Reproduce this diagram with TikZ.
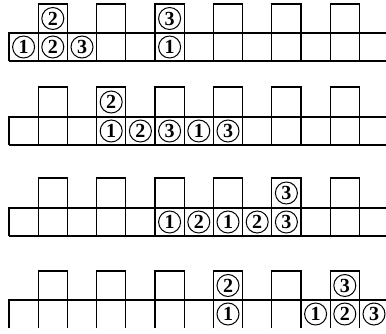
\documentclass[tikz,border=0pt]{standalone}
\usepackage{fontspec}
\setmainfont{Liberation Serif}
\begin{document}
\begin{tikzpicture}[x=1pt,y=-1pt,line width=1.1pt,
  num/.style={circle,draw,line width=1pt,minimum size=22pt,inner sep=0pt,
    font=\fontsize{20}{20}\selectfont\bfseries}]
\useasboundingbox (0,0) rectangle (386,334);
\def\cw{29.2}
% grid rows: row / bump top / strip top / bottom / has bottom line
\foreach \r/\bt/\st/\bo/\hb in {1/4/33/61/1,2/87/117/145/1,3/178/208/236/1,4/271/300/328/0}{
  \draw (9,\bo) -- (9,\st) -- (386,\st);
  \ifnum\hb=1 \draw (9,\bo) -- (386,\bo); \fi
  \foreach \i in {1,3,...,11}{
    \draw ({9+\cw*\i},\bo) -- ({9+\cw*\i},\bt) -- ({9+\cw*(\i+1)},\bt) -- ({9+\cw*(\i+1)},\bo);
  }
}
% circled numbers: name / column / y centre / digit
\foreach \n/\c/\y/\d in {
  a0b/0/47/1, a1b/1/47/2, a1t/1/18.5/2, a2b/2/47/3, a5b/5/47/1, a5t/5/18.5/3,
  b3t/3/102/2, b3b/3/131/1, b4b/4/131/2, b5b/5/131/3, b6b/6/131/1, b7b/7/131/3,
  c5b/5/222/1, c6b/6/222/2, c7b/7/222/1, c8b/8/222/2, c9b/9/222/3, c9t/9/193/3,
  d7t/7/285.5/2, d7b/7/314/1, d10b/10/314/1, d11b/11/314/2, d11t/11/285.5/3, d12b/12/314/3}{
  \node[num] (\n) at ({9+\cw*\c+14.6},\y) {\d};
}
\end{tikzpicture}
\end{document}
